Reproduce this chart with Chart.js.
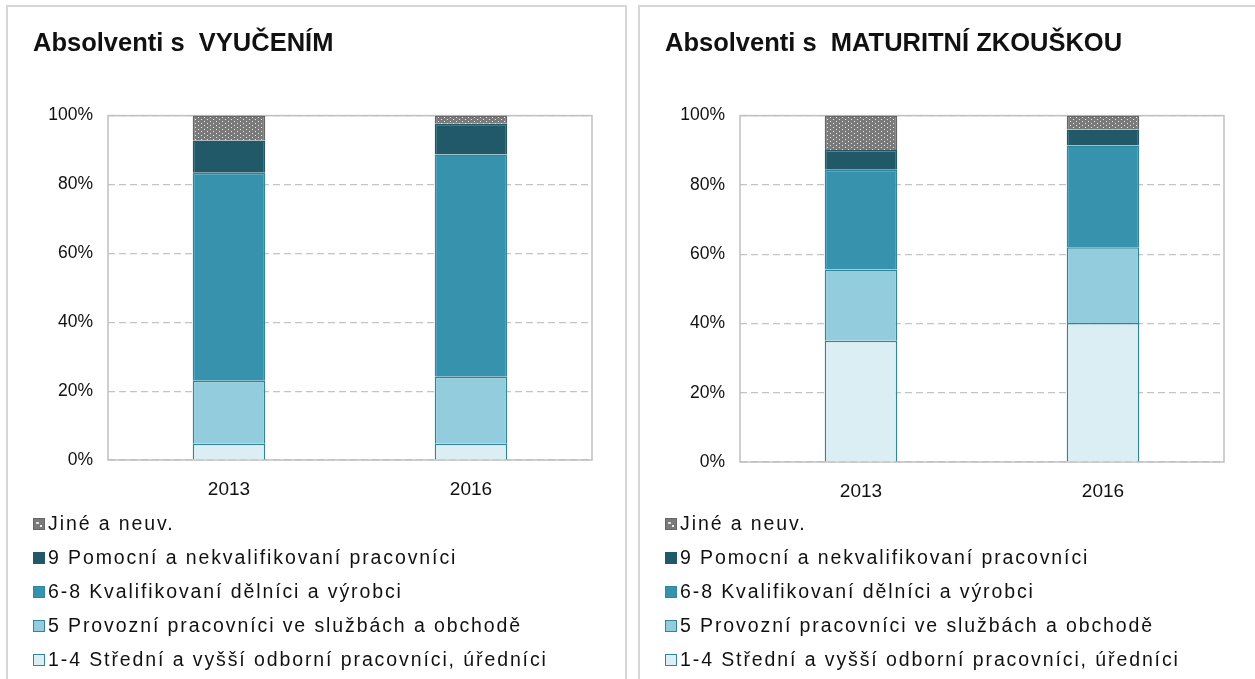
<!DOCTYPE html>
<html>
<head>
<meta charset="utf-8">
<script src="https://cdn.jsdelivr.net/npm/chart.js@4/dist/chart.umd.min.js"></script>
<style>
  body { margin: 0; background: #fff; width: 1255px; height: 679px; overflow: hidden; position: relative; font-family: "Liberation Sans", Arial, sans-serif; }
  .panel { position: absolute; top: 5px; width: 621px; height: 700px; box-sizing: border-box; border: 2px solid #d6d6d6; background: #fff; }
  #p1 { left: 6px; }
  #p2 { left: 638px; }
  .panel canvas { position: absolute; left: 0; top: 0; }
  .legend { position: absolute; left: 25px; top: 499px; }
  .legend div { height: 34px; line-height: 34px; font-size: 19.5px; letter-spacing: 1.9px; color: #111; white-space: nowrap; }
  .legend span { display: inline-block; width: 10px; height: 10px; border: 1px solid #666; margin-right: 3px; vertical-align: 0px; }
</style>
</head>
<body>
<div class="panel" id="p1"><canvas id="c1" width="617" height="500"></canvas><div class="legend" id="l1"></div></div>
<div class="panel" id="p2"><canvas id="c2" width="617" height="500"></canvas><div class="legend" id="l2"></div></div>
<script>
var years = ['2013', '2016'];
var seriesNames = [
  '1-4 Střední a vyšší odborní pracovníci, úředníci',
  '5 Provozní pracovníci ve službách a obchodě',
  '6-8 Kvalifikovaní dělníci a výrobci',
  '9 Pomocní a nekvalifikovaní pracovníci',
  'Jiné a neuv.'
];
var yTicks = [0, 20, 40, 60, 80, 100];

// Absolventi s vyučením (%)
var vyuc_14 = [4.7, 4.7];
var vyuc_5 = [18.3, 19.5];
var vyuc_68 = [60.4, 64.5];
var vyuc_9 = [9.4, 8.9];
var vyuc_jine = [7.2, 2.4];

// Absolventi s maturitní zkouškou (%)
var mat_14 = [35.0, 40.1];
var mat_5 = [20.6, 21.9];
var mat_68 = [28.8, 29.4];
var mat_9 = [5.7, 4.6];
var mat_jine = [9.9, 4.0];

var fills = ['#daeef3', '#93cddd', '#3793ad', '#215968', null];
var borders = ['#31849b', '#31849b', '#2e86a0', '#215968', '#666666'];

function dotPattern() {
  var c = document.createElement('canvas');
  c.width = 6; c.height = 4;
  var g = c.getContext('2d');
  g.fillStyle = '#7a7a7a';
  g.fillRect(0, 0, 6, 4);
  g.fillStyle = '#e8e8e8';
  g.fillRect(1, 0, 1, 1);
  g.fillRect(4, 2, 1, 1);
  return g.createPattern(c, 'repeat');
}

var plotBox = {
  id: 'plotBox',
  beforeDatasetsDraw: function(chart) {
    var a = chart.chartArea, ctx = chart.ctx;
    ctx.save();
    ctx.strokeStyle = '#c0c0c0';
    ctx.lineWidth = 1.5;
    ctx.strokeRect(a.left, a.top, a.right - a.left, a.bottom - a.top);
    ctx.restore();
  }
};

Chart.defaults.font.family = '"Liberation Sans", Arial, sans-serif';
Chart.defaults.color = '#111';

function makeChart(id, legendId, title, data, xHeight) {
  var datasets = data.map(function(vals, i) {
    return {
      label: seriesNames[i],
      data: vals,
      backgroundColor: fills[i] || dotPattern(),
      borderColor: borders[i],
      borderWidth: 1.5,
      barPercentage: 0.3,
      categoryPercentage: 1
    };
  });

  new Chart(document.getElementById(id).getContext('2d'), {
    type: 'bar',
    data: { labels: years, datasets: datasets },
    options: {
      responsive: false,
      animation: false,
      layout: { padding: { left: 25, right: 33, bottom: 0 } },
      plugins: {
        legend: { display: false },
        tooltip: { enabled: false },
        title: {
          display: true,
          text: title,
          align: 'start',
          color: '#111',
          font: { size: 25.5, weight: 'bold' },
          padding: { top: 22, bottom: 56 }
        }
      },
      scales: {
        x: {
          stacked: true,
          grid: { display: false },
          border: { display: false },
          ticks: { font: { size: 19 }, padding: 10 },
          afterFit: function(s) { s.height = xHeight; }
        },
        y: {
          stacked: true,
          min: 0,
          max: 100,
          afterBuildTicks: function(s) { s.ticks = yTicks.map(function(v) { return { value: v }; }); },
          ticks: { font: { size: 17.5 }, padding: 15, callback: function(v) { return v + '%'; } },
          grid: { color: '#c4c4c4', lineWidth: 1.2, drawTicks: false },
          border: { display: false, dash: [7, 4] },
          afterFit: function(s) { s.width = 75; }
        }
      }
    },
    plugins: [plotBox]
  });

  // legend, top of the stack first
  var lg = document.getElementById(legendId);
  for (var i = seriesNames.length - 1; i >= 0; i--) {
    var row = document.createElement('div');
    var sw = document.createElement('span');
    if (fills[i]) {
      sw.style.background = fills[i];
      sw.style.borderColor = borders[i];
    } else {
      sw.style.background = 'radial-gradient(circle at 35% 40%, #eee 0 1px, transparent 1.5px), radial-gradient(circle at 70% 70%, #eee 0 1px, transparent 1.5px), #7a7a7a';
    }
    row.appendChild(sw);
    row.appendChild(document.createTextNode(seriesNames[i]));
    lg.appendChild(row);
  }
}

makeChart('c1', 'l1', 'Absolventi s  VYUČENÍM', [vyuc_14, vyuc_5, vyuc_68, vyuc_9, vyuc_jine], 47);
makeChart('c2', 'l2', 'Absolventi s  MATURITNÍ ZKOUŠKOU', [mat_14, mat_5, mat_68, mat_9, mat_jine], 45);
</script>
</body>
</html>
